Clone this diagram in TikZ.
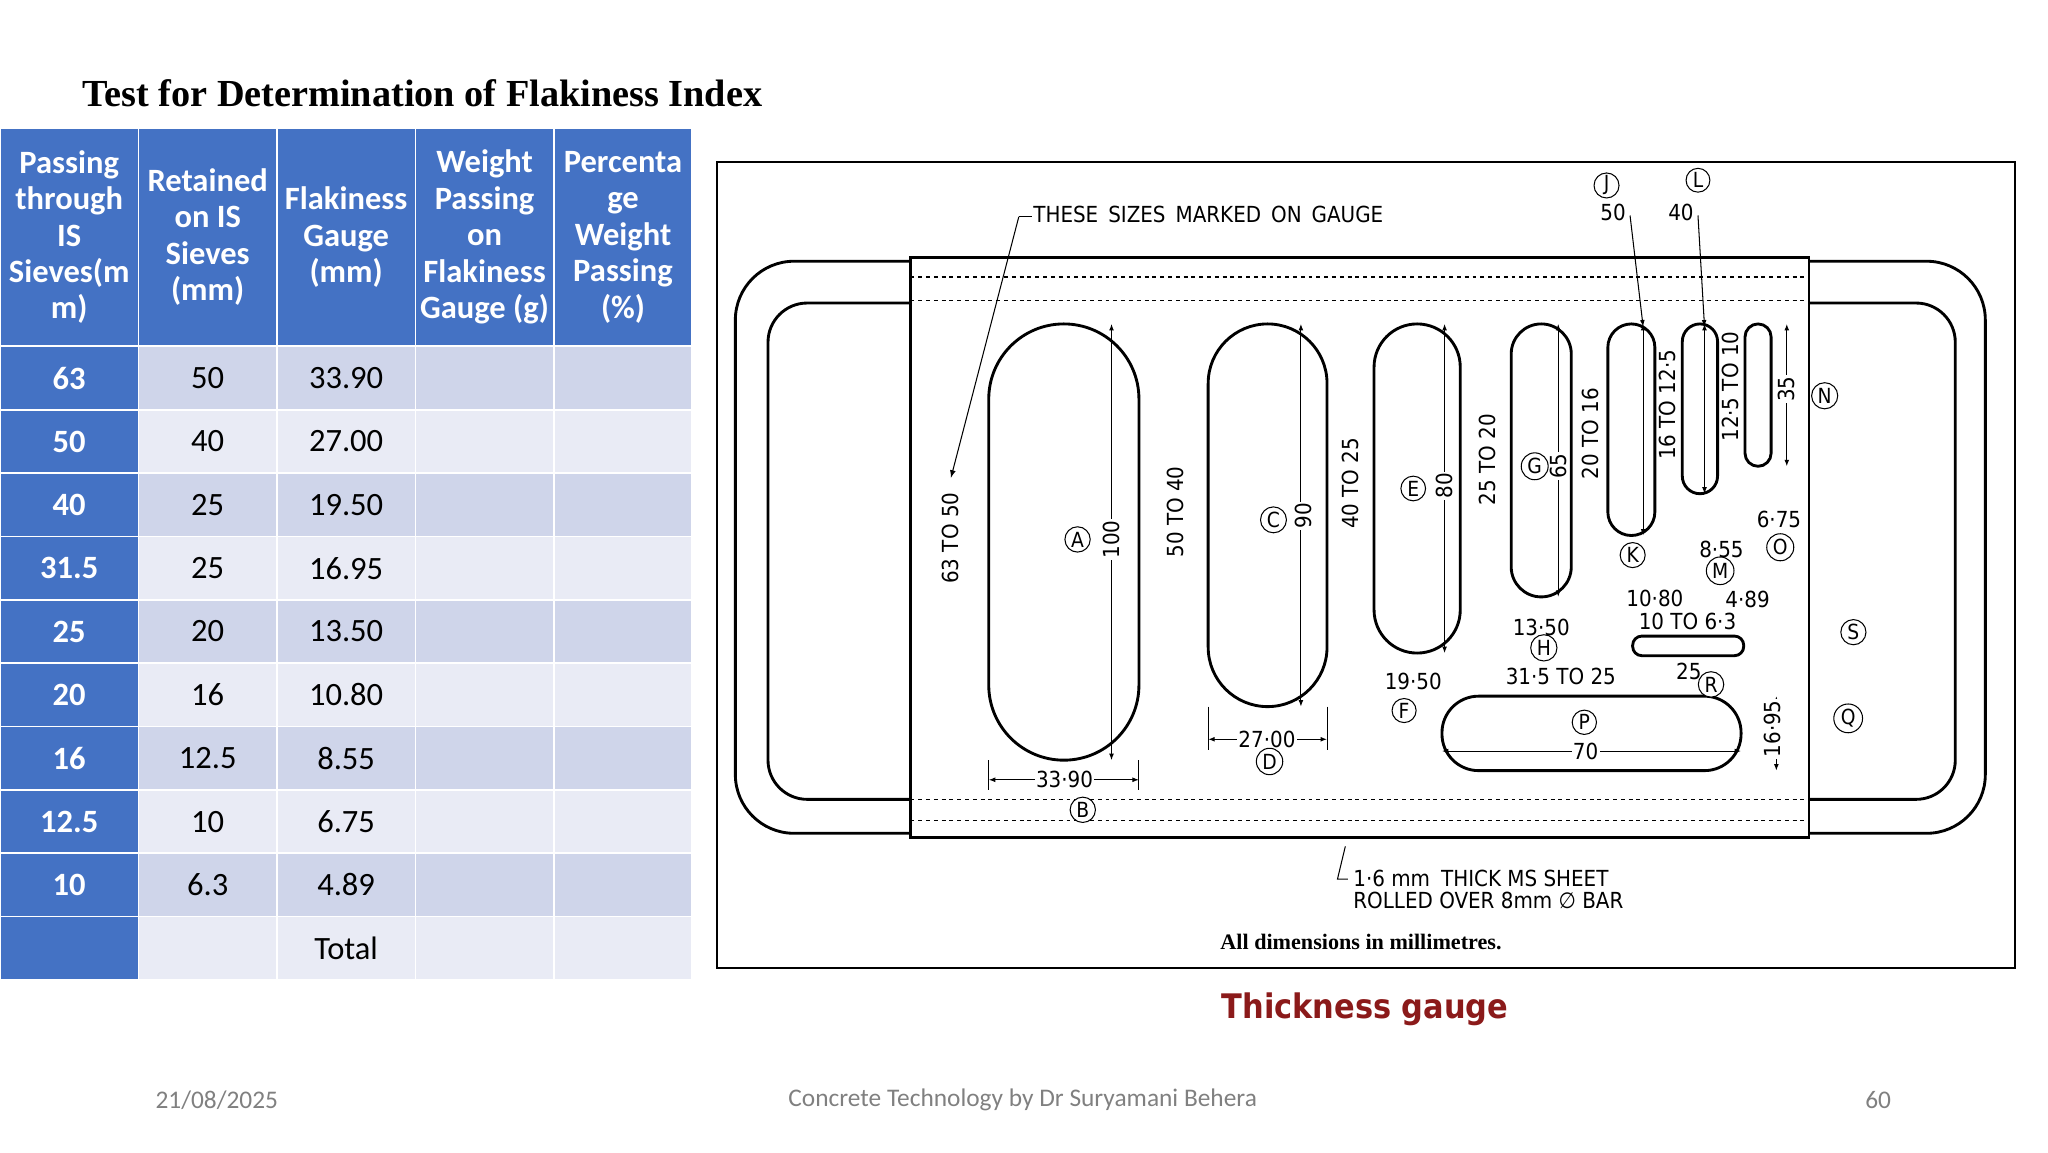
\documentclass[tikz,border=0pt]{standalone}
\usepackage{fontspec}
\setmainfont{Carlito}
\newfontfamily\ser{Liberation Serif}
\newfontfamily\gf{DejaVu Sans Condensed}
\usetikzlibrary{arrows.meta}
\definecolor{hdr}{HTML}{4472C4}
\definecolor{rowa}{HTML}{CFD5EA}
\definecolor{rowb}{HTML}{E9EBF5}
\definecolor{tg}{HTML}{8B1A1A}
\tikzset{
 cell/.style={minimum width=106bp,minimum height=48.5bp,inner sep=0pt,draw=white,line width=1.2pt,font=\fontsize{25}{25}\selectfont,align=center},
 slot/.style={line width=2.2pt},
 gl/.style={font=\gf\fontsize{17}{17}\selectfont,inner sep=1pt},
 cl/.style={font=\gf\fontsize{16}{16}\selectfont,circle,draw,line width=0.8pt,inner sep=1.5pt},
 dim/.style={line width=0.8pt,{Latex[length=5pt]}-{Latex[length=5pt]}},
 foot/.style={font=\fontsize{19.5}{19.5}\selectfont,text=gray}
}
\begin{document}
\begin{tikzpicture}[x=1bp,y=-1bp]
\useasboundingbox (0,0) rectangle (1568,882);
\node[font=\ser\bfseries\fontsize{29.4}{29.4}\selectfont,anchor=west,inner sep=0pt] (title) at (63,71) {Test for Determination of Flakiness Index};
% header
\foreach \x/\t in {0/{Passing\\through\\IS\\Sieves(m\\m)},1/{Retained\\on IS\\Sieves\\(mm)},2/{Flakiness\\Gauge\\(mm)},3/{Weight\\Passing\\on\\Flakiness\\Gauge (g)},4/{Percenta\\ge\\Weight\\Passing\\(\%)}}
 \node[cell,fill=hdr,text=white,minimum height=167bp,font=\bfseries\fontsize{25}{28}\selectfont] (h\x) at (53+106*\x,181.5) {\t};
\foreach \r/\a/\b/\c in {0/63/50/33.90,1/50/40/27.00,2/40/25/19.50,3/31.5/25/16.95,4/25/20/13.50,5/20/16/10.80,6/16/12.5/8.55,7/12.5/10/6.75,8/10/6.3/4.89,9//{}/Total}{
 \pgfmathsetmacro\yy{289.5+48.5*\r}
 \pgfmathtruncatemacro\odd{mod(\r,2)}
 \ifnum\odd=0 \def\rc{rowa}\else\def\rc{rowb}\fi
 \node[cell,fill=hdr,text=white,font=\bfseries\fontsize{25}{25}\selectfont] (c0\r) at (53,\yy) {\a};
 \node[cell,fill=\rc] (c1\r) at (159,\yy) {\b};
 \node[cell,fill=\rc] (c2\r) at (265,\yy) {\c};
 \node[cell,fill=\rc] (c3\r) at (371,\yy) {};
 \node[cell,fill=\rc] (c4\r) at (477,\yy) {};
}
% gauge frame
\draw[line width=1.5pt] (549,124) rectangle (1543,741);
% plate outline
\draw[line width=2.2pt,rounded corners=45bp] (697,200) -- (563,200) -- (563,638) -- (697,638);
\draw[line width=2.2pt,rounded corners=45bp] (1385,200) -- (1520,200) -- (1520,638) -- (1385,638);
\draw[line width=2.2pt,rounded corners=30bp] (697,232) -- (588,232) -- (588,612) -- (697,612);
\draw[line width=2.2pt,rounded corners=30bp] (1385,232) -- (1497,232) -- (1497,612) -- (1385,612);
\draw[line width=2.2pt] (697,197) rectangle (1385,641);
\draw[dashed,line width=1pt] (697,212) -- (1385,212) (697,230) -- (1385,230) (697,612) -- (1385,612) (697,628) -- (1385,628);
% slots
\foreach \xa/\xb/\yb in {757/872/582,925/1016/541,1052/1118/500,1157/1203/457,1231/1267/410,1288/1315/378,1336/1356/357}{
 \pgfmathsetmacro\rr{(\xb-\xa)/2}
 \draw[slot,rounded corners=\rr bp] (\xa,248) rectangle (\xb,\yb);
}
\draw[slot,rounded corners=28bp] (1104,533) rectangle (1333,590);
\draw[slot,rounded corners=7bp] (1250,487) rectangle (1335,502);
% dimension lines
\draw[dim] (851,248) -- (851,582); \draw[dim] (996,248) -- (996,541);
\draw[dim] (1106,248) -- (1106,500); \draw[dim] (1193,248) -- (1193,457);
\draw[dim] (1258,248) -- (1258,410); \draw[dim] (1305,248) -- (1305,378);
\draw[dim] (1368,248) -- (1368,357); \draw[dim] (1360,533) -- (1360,590);
\draw[dim] (757,597) -- (872,597); \draw[dim] (925,566) -- (1016,566);
\draw[dim] (1104,575) -- (1333,575);
\draw[line width=0.8pt] (757,582) -- (757,605) (872,582) -- (872,605) (925,541) -- (925,574) (1016,541) -- (1016,574);
\draw[line width=0.8pt,-{Latex[length=6pt]}] (780,166) -- (728,366);
\draw[line width=0.8pt] (780,166) -- (790,166);
\draw[line width=0.8pt,-{Latex[length=5pt]}] (1248,165) -- (1258,250);
\draw[line width=0.8pt,-{Latex[length=5pt]}] (1300,165) -- (1305,250);
% labels
\node[gl,anchor=west] (t1) at (790,164) {THESE\, SIZES\, MARKED\, ON\, GAUGE};
\node[gl] (t50) at (1235,163) {50}; \node[gl] (t40) at (1287,163) {40};
\foreach \x/\y/\t in {728/412/63 TO 50,851/413/100,900/392/50 TO 40,998/395/90,1034/370/40 TO 25,1106/372/80,1139/352/25 TO 20,1193/357/65,1218/332/20 TO 16,1277/310/16 TO 12·5,1325/296/12·5 TO 10,1368/298/35,1357/558/16·95}
 \node[gl,rotate=90,fill=white] at (\x,\y) {\t};
\foreach \x/\y/\t in {815/597/33·90,970/566/27·00,1082/522/19·50,1180/480/13·50,1267/458/10·80,1318/421/8·55,1362/398/6·75,1338/459/4·89,1292/476/10 TO 6·3,1293/514/25,1195/518/31·5 TO 25,1214/575/70}
 \node[gl,fill=white] at (\x,\y) {\t};
\foreach \x/\y/\t in {825/413/A,829/620/B,975/398/C,972/583/D,1082/374/E,1075/544/F,1175/357/G,1182/496/H,1250/425/K,1317/437/M,1363/419/O,1230/142/J,1300/138/L,1397/303/N,1419/484/S,1415/550/Q,1213/553/P,1310/524/R}
 \node[cl,fill=white] at (\x,\y) {\t};
\node[gl,align=left,anchor=west,font=\gf\fontsize{17}{17}\selectfont] (sheet) at (1035,681) {1·6 mm\enspace THICK MS SHEET\\ROLLED OVER 8mm ∅ BAR};
\draw[line width=0.8pt] (1030,648) -- (1024,673) -- (1032,673);
\node[font=\ser\bfseries\fontsize{17}{17}\selectfont] (dims) at (1042,721) {All dimensions in millimetres.};
\node[font=\gf\bfseries\fontsize{26}{26}\selectfont,text=tg] (cap) at (1045,773) {Thickness gauge};
% footer
\node[foot] (f1) at (166,842) {21/08/2025};
\node[foot] (f2) at (783,842) {Concrete Technology by Dr Suryamani Behera};
\node[foot] (f3) at (1438,842) {60};
\end{tikzpicture}
\end{document}
